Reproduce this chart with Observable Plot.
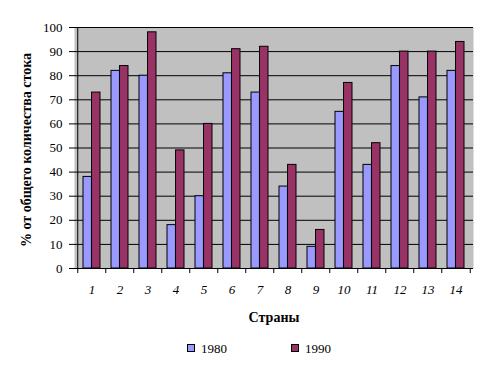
<!DOCTYPE html>
<html><head><meta charset="utf-8">
<script src="https://cdn.jsdelivr.net/npm/d3@7"></script>
<script src="https://cdn.jsdelivr.net/npm/@observablehq/plot@0.6"></script>
<style>
body{margin:0;background:#fff;overflow:hidden}
#wrap{position:relative;width:489px;height:371px}
.t{position:absolute;white-space:nowrap;color:#000;line-height:1}
.sw{position:absolute;width:6px;height:6px;border:1px solid #000}
</style></head><body><div id="wrap"></div>
<script>
const countries = ["1","2","3","4","5","6","7","8","9","10","11","12","13","14"];
const v1980 = [38,82,80,18,30,81,73,34,9,65,43,84,71,82];
const v1990 = [73,84,98,49,60,91,92,43,16,77,52,90,90,94];
const yTicks = [0,10,20,30,40,50,60,70,80,90,100];
const series = ["1980","1990"];
const colors = ["#9999FF","#993366"];
const xTitle = "Страны";
const yTitle = "% от общего количества стока";

const data = countries.map((c,i)=>({country:c, a:v1980[i], b:v1990[i]}));
const W = 489, ML = 74, MR = 16;
const step = (W-ML-MR)/countries.length;
const bw = step*0.6;

const chart = Plot.plot({
  width: W, height: 371,
  marginLeft: ML, marginRight: MR, marginTop: 27, marginBottom: 103,
  style: {background:"white", overflow:"visible"},
  x: {type:"band", domain: countries, paddingInner:0.4, paddingOuter:0.2, label:null},
  y: {domain:[0,100], label:null},
  marks: [
    Plot.frame({fill:"#c0c0c0", stroke:null}),
    Plot.ruleY(yTicks, {stroke:"black"}),
    Plot.barY(data, {x:"country", y:"a", fill:colors[0], stroke:"black", insetRight: bw/2}),
    Plot.barY(data, {x:"country", y:"b", fill:colors[1], stroke:"black", insetLeft: bw/2}),
    Plot.ruleX([countries[0]], {dx:-step/2, stroke:"black"}),
    Plot.axisX({ticks: countries, tickSize:5, tickFormat:()=>"", dx:-step/2}),
    Plot.axisX({ticks: [countries[countries.length-1]], tickSize:5, tickFormat:()=>"", dx:step/2}),
    Plot.axisX({tickSize:0, tickPadding:16, fontStyle:"italic", fontFamily:"Liberation Serif", fontSize:13}),
    Plot.axisY({ticks: yTicks, tickSize:5, tickPadding:7, fontFamily:"Liberation Serif", fontSize:13})
  ]
});
const wrap = document.getElementById("wrap");
wrap.appendChild(chart);

function addText(txt, css){ const d=document.createElement("div"); d.className="t"; d.textContent=txt; Object.assign(d.style, css); wrap.appendChild(d); return d; }
addText(xTitle, {left:"274px", top:"310px", transform:"translateX(-50%)", font:"bold 14px 'Liberation Serif'"});
addText(yTitle, {left:"27px", top:"150px", transform:"translate(-50%,-50%) rotate(-90deg)", font:"bold 14px 'Liberation Serif'"});
const lx = [187, 291];
series.forEach((s,i)=>{
  const sw=document.createElement("div"); sw.className="sw"; Object.assign(sw.style,{left:lx[i]+"px", top:"344px", background:colors[i]}); wrap.appendChild(sw);
  addText(s, {left:(lx[i]+14)+"px", top:"341px", font:"13px 'Liberation Serif'"});
});
</script></body></html>
